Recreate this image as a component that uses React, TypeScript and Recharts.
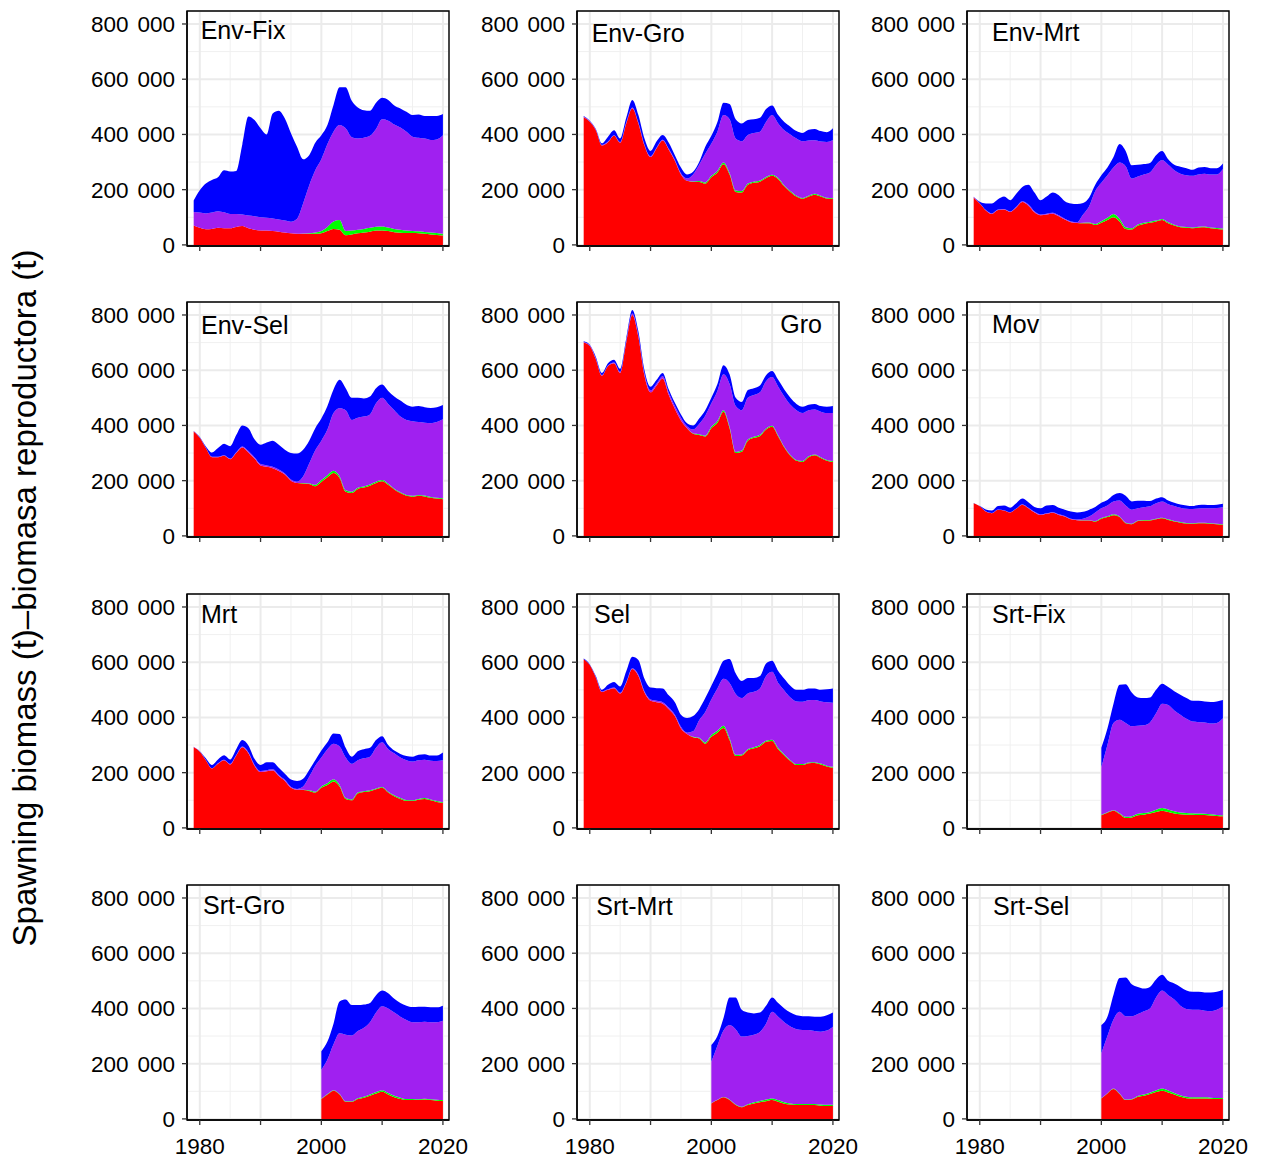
import React from 'react';
import { AreaChart, Area, XAxis, YAxis, CartesianGrid, ReferenceArea } from 'recharts';

// ---------- categories ----------
const YEARS = [1979, 1980, 1981, 1982, 1983, 1984, 1985, 1986, 1987, 1988, 1989, 1990, 1991, 1992, 1993, 1994, 1995, 1996, 1997, 1998, 1999, 2000, 2001, 2002, 2003, 2004, 2005, 2006, 2007, 2008, 2009, 2010, 2011, 2012, 2013, 2014, 2015, 2016, 2017, 2018, 2019, 2020];
const SRT_YEARS = [2000, 2001, 2002, 2003, 2004, 2005, 2006, 2007, 2008, 2009, 2010, 2011, 2012, 2013, 2014, 2015, 2016, 2017, 2018, 2019, 2020];

const X_TICKS = [1980, 1990, 2000, 2010, 2020];
const X_LABELS = [1980, 2000, 2020];
const X_MINOR = [1985, 1995, 2005, 2015];
const Y_TICKS = [0, 200000, 400000, 600000, 800000];
const Y_MINOR = [100000, 300000, 500000, 700000];
const Y_TITLE = 'Spawning biomass (t)\u2013biomasa reproductora (t)';

// ---------- series values (thousand t); stacked: red, green, purple, blue ----------
const envFixRed = [70, 62, 57, 58, 62, 60, 60, 65, 68, 60, 55, 52, 52, 50, 48, 45, 42, 40, 40, 40, 40, 42, 50, 58, 55, 35, 38, 42, 45, 48, 52, 52, 50, 46, 44, 43, 43, 42, 40, 38, 36, 34];
const envFixGreen = [0, 0, 0, 0, 0, 0, 0, 0, 0, 0, 0, 0, 0, 0, 0, 0, 0, 0, 1, 2, 5, 8, 15, 27, 35, 15, 14, 13, 13, 14, 14, 15, 13, 12, 11, 9, 7, 7, 7, 7, 7, 6];
const envFixPurple = [49, 55, 57, 59, 60, 58, 52, 47, 42, 46, 49, 48, 46, 46, 44, 43, 42, 55, 109, 173, 225, 260, 300, 325, 344, 372, 338, 330, 330, 333, 354, 388, 387, 378, 370, 358, 342, 339, 338, 335, 339, 357];
const envFixBlue = [42, 81, 108, 118, 123, 152, 154, 156, 254, 359, 348, 322, 302, 380, 394, 370, 320, 260, 160, 110, 100, 87, 69, 97, 137, 149, 132, 113, 100, 91, 95, 78, 75, 69, 69, 72, 78, 84, 82, 87, 85, 77];

const envGroRed = [462, 446, 415, 360, 372, 395, 370, 440, 495, 440, 360, 318, 350, 378, 345, 305, 255, 232, 228, 228, 222, 245, 262, 292, 255, 192, 190, 218, 225, 229, 242, 250, 238, 212, 192, 175, 167, 175, 182, 175, 168, 167];
const envGroGreen = [0, 0, 0, 0, 0, 0, 0, 0, 0, 0, 0, 0, 0, 0, 0, 0, 0, 0, 2, 3, 4, 5, 6, 6, 5, 5, 5, 4, 4, 4, 4, 4, 4, 3, 3, 3, 3, 3, 3, 3, 3, 3];
const envGroPurple = [2, 2, 2, 2, 2, 2, 2, 3, 3, 3, 3, 3, 3, 3, 3, 3, 4, 8, 25, 59, 104, 117, 142, 172, 195, 188, 180, 176, 176, 177, 199, 216, 198, 200, 205, 207, 205, 200, 194, 196, 202, 209];
const envGroBlue = [3, 2, 3, 6, 18, 18, 13, 17, 27, 27, 22, 19, 22, 17, 22, 17, 21, 15, 10, 10, 25, 28, 35, 45, 55, 70, 65, 54, 50, 50, 47, 35, 30, 30, 28, 27, 30, 39, 41, 38, 35, 43];

const envMrtRed = [172, 150, 125, 112, 126, 128, 119, 135, 155, 142, 118, 107, 110, 113, 104, 92, 82, 79, 78, 78, 72, 80, 90, 100, 85, 58, 56, 70, 76, 80, 85, 90, 78, 70, 64, 62, 60, 63, 64, 60, 58, 56];
const envMrtGreen = [0, 0, 0, 0, 0, 0, 0, 0, 0, 0, 0, 0, 0, 0, 0, 0, 0, 0, 2, 3, 4, 6, 8, 12, 10, 6, 4, 4, 4, 4, 3, 4, 4, 3, 3, 3, 3, 3, 3, 3, 3, 3];
const envMrtPurple = [1, 1, 1, 2, 2, 2, 2, 3, 3, 4, 4, 3, 3, 3, 3, 3, 3, 3, 30, 59, 119, 139, 154, 168, 203, 221, 180, 174, 175, 178, 202, 213, 208, 197, 191, 187, 187, 189, 191, 192, 194, 216];
const envMrtBlue = [1, 5, 24, 36, 37, 45, 41, 47, 52, 72, 68, 52, 62, 74, 73, 63, 65, 66, 42, 32, 23, 27, 28, 38, 67, 55, 48, 42, 38, 35, 35, 33, 20, 20, 25, 26, 22, 25, 24, 23, 23, 20];

const envSelRed = [378, 355, 318, 285, 285, 290, 278, 300, 320, 302, 280, 255, 250, 245, 235, 222, 200, 192, 190, 188, 180, 195, 212, 228, 210, 160, 155, 170, 175, 182, 192, 198, 185, 168, 155, 145, 142, 145, 143, 138, 135, 133];
const envSelGreen = [0, 0, 0, 0, 0, 0, 0, 0, 0, 0, 0, 0, 0, 0, 0, 0, 0, 0, 2, 2, 5, 7, 8, 8, 6, 5, 5, 4, 4, 4, 4, 4, 4, 3, 3, 3, 3, 3, 3, 3, 3, 3];
const envSelPurple = [1, 1, 1, 2, 2, 2, 2, 3, 4, 5, 5, 5, 5, 5, 5, 4, 4, 4, 23, 72, 125, 143, 165, 209, 246, 290, 260, 254, 253, 254, 284, 298, 289, 284, 274, 272, 270, 264, 264, 267, 274, 286];
const envSelBlue = [1, 2, 5, 15, 31, 42, 45, 62, 76, 83, 65, 70, 83, 95, 90, 86, 96, 102, 97, 83, 80, 80, 85, 85, 103, 80, 80, 72, 66, 65, 55, 48, 47, 50, 58, 55, 53, 58, 56, 55, 54, 52];

const groRed = [700, 688, 640, 580, 615, 625, 590, 700, 800, 720, 580, 520, 545, 570, 510, 460, 418, 390, 370, 365, 360, 390, 410, 450, 390, 300, 305, 345, 355, 362, 385, 395, 360, 320, 290, 272, 268, 285, 292, 282, 272, 268];
const groGreen = [0, 0, 0, 0, 0, 0, 0, 0, 0, 0, 0, 0, 0, 0, 0, 0, 0, 0, 2, 3, 3, 5, 6, 5, 5, 4, 4, 4, 4, 4, 4, 4, 4, 3, 3, 3, 3, 3, 3, 3, 3, 3];
const groPurple = [2, 2, 2, 2, 2, 3, 4, 5, 5, 6, 7, 7, 7, 8, 8, 10, 10, 7, 13, 37, 72, 85, 109, 130, 155, 166, 146, 151, 151, 154, 171, 176, 176, 182, 182, 180, 174, 167, 163, 165, 170, 174];
const groBlue = [3, 2, 6, 8, 8, 10, 11, 10, 13, 14, 13, 13, 13, 12, 12, 12, 12, 11, 15, 20, 20, 20, 25, 33, 35, 30, 30, 28, 25, 25, 22, 22, 25, 25, 25, 23, 23, 20, 20, 20, 23, 25];

const movRed = [118, 107, 88, 82, 95, 92, 85, 98, 113, 100, 85, 76, 80, 84, 76, 70, 60, 57, 56, 56, 52, 62, 68, 75, 68, 46, 42, 54, 56, 56, 60, 64, 58, 52, 48, 45, 44, 46, 46, 44, 42, 40];
const movGreen = [0, 0, 0, 0, 0, 0, 0, 0, 0, 0, 0, 0, 0, 0, 0, 0, 0, 0, 1, 1, 2, 3, 3, 3, 2, 2, 2, 2, 2, 2, 2, 2, 2, 2, 2, 2, 2, 2, 2, 2, 2, 2];
const movPurple = [0, 0, 1, 1, 1, 1, 1, 1, 2, 2, 2, 2, 2, 2, 2, 2, 2, 2, 5, 13, 31, 35, 39, 47, 58, 62, 51, 44, 46, 49, 56, 59, 55, 54, 52, 51, 51, 51, 52, 54, 57, 62];
const movBlue = [1, 1, 7, 9, 12, 17, 16, 19, 20, 20, 18, 22, 28, 26, 24, 23, 26, 26, 25, 25, 20, 20, 20, 23, 27, 35, 30, 27, 23, 19, 17, 15, 13, 12, 12, 12, 11, 13, 13, 12, 12, 12];

const mrtRed = [292, 276, 245, 215, 232, 245, 230, 262, 292, 270, 225, 202, 205, 208, 188, 170, 145, 138, 137, 134, 128, 145, 155, 168, 150, 105, 100, 125, 130, 133, 140, 145, 128, 115, 105, 98, 97, 102, 105, 100, 94, 90];
const mrtGreen = [0, 0, 0, 0, 0, 0, 0, 0, 0, 0, 0, 0, 0, 0, 0, 0, 0, 0, 1, 2, 3, 5, 7, 8, 5, 3, 3, 3, 3, 3, 3, 3, 3, 3, 3, 3, 3, 3, 3, 3, 3, 3];
const mrtPurple = [1, 1, 1, 1, 2, 2, 2, 2, 3, 4, 4, 4, 4, 4, 4, 4, 4, 3, 12, 49, 94, 105, 123, 129, 140, 147, 129, 117, 119, 122, 147, 162, 154, 152, 147, 144, 140, 140, 139, 140, 145, 152];
const mrtBlue = [1, 1, 6, 12, 14, 16, 16, 21, 23, 24, 21, 22, 29, 26, 26, 22, 26, 29, 28, 25, 20, 25, 25, 37, 45, 35, 26, 33, 33, 32, 28, 22, 15, 10, 13, 15, 18, 20, 20, 19, 20, 28];

const selRed = [611, 590, 545, 492, 500, 506, 487, 525, 575, 550, 490, 460, 455, 450, 430, 405, 360, 340, 328, 324, 305, 330, 345, 362, 318, 260, 262, 281, 288, 296, 312, 315, 285, 262, 242, 228, 228, 234, 235, 230, 222, 218];
const selGreen = [0, 0, 0, 0, 0, 0, 0, 0, 0, 0, 0, 0, 0, 0, 0, 0, 0, 0, 2, 2, 4, 6, 7, 8, 7, 5, 4, 4, 4, 4, 4, 4, 4, 4, 3, 3, 3, 3, 3, 3, 3, 3];
const selPurple = [0, 0, 1, 2, 2, 2, 2, 3, 3, 5, 5, 5, 5, 5, 6, 5, 6, 5, 20, 64, 111, 129, 153, 170, 200, 220, 204, 202, 201, 205, 234, 246, 236, 232, 227, 227, 226, 225, 225, 225, 230, 232];
const selBlue = [2, 2, 4, 6, 16, 20, 23, 39, 42, 53, 45, 43, 46, 50, 44, 45, 44, 53, 55, 40, 50, 50, 55, 65, 87, 75, 62, 56, 50, 45, 45, 40, 43, 42, 43, 42, 43, 43, 42, 42, 47, 52];

const srtFixRed = [46, 55, 62, 50, 36, 38, 46, 48, 52, 58, 62, 58, 52, 49, 48, 48, 47, 47, 45, 43, 42];
const srtFixGreen = [2, 2, 2, 3, 4, 4, 5, 6, 6, 8, 10, 9, 8, 7, 6, 5, 5, 4, 4, 4, 4];
const srtFixPurple = [172, 243, 316, 339, 340, 326, 319, 318, 324, 349, 378, 378, 365, 354, 341, 332, 331, 331, 329, 333, 351];
const srtFixBlue = [70, 60, 70, 126, 140, 122, 102, 98, 90, 85, 72, 65, 70, 72, 75, 75, 77, 76, 78, 78, 66];

const srtGroRed = [72, 88, 102, 88, 62, 62, 72, 77, 84, 92, 98, 88, 78, 72, 68, 68, 68, 70, 68, 66, 65];
const srtGroGreen = [1, 2, 2, 2, 2, 2, 3, 3, 4, 5, 6, 6, 6, 5, 4, 4, 3, 3, 3, 3, 3];
const srtGroPurple = [105, 125, 166, 220, 241, 238, 243, 250, 262, 288, 304, 306, 301, 293, 286, 278, 279, 279, 279, 281, 287];
const srtGroBlue = [67, 65, 75, 115, 127, 110, 94, 84, 70, 63, 57, 55, 50, 50, 52, 55, 56, 54, 54, 54, 55];

const srtMrtRed = [56, 68, 78, 68, 50, 42, 50, 56, 60, 64, 68, 62, 55, 52, 50, 50, 50, 50, 48, 47, 47];
const srtMrtGreen = [1, 1, 1, 2, 2, 2, 3, 4, 5, 6, 6, 6, 5, 4, 4, 4, 4, 4, 4, 4, 4];
const srtMrtPurple = [150, 196, 241, 270, 273, 254, 247, 245, 250, 275, 314, 302, 290, 279, 271, 268, 268, 264, 264, 269, 283];
const srtMrtBlue = [61, 35, 45, 100, 115, 97, 85, 77, 70, 65, 52, 50, 50, 50, 50, 50, 50, 52, 54, 55, 51];

const srtSelRed = [74, 92, 108, 90, 68, 70, 80, 84, 90, 97, 102, 96, 88, 80, 75, 74, 74, 74, 73, 72, 72];
const srtSelGreen = [1, 1, 2, 2, 2, 2, 3, 4, 5, 6, 8, 7, 6, 6, 5, 4, 4, 4, 4, 4, 4];
const srtSelPurple = [163, 207, 250, 296, 302, 300, 297, 302, 305, 337, 355, 345, 338, 324, 318, 317, 317, 314, 313, 319, 331];
const srtSelBlue = [102, 70, 90, 122, 140, 116, 98, 82, 78, 65, 57, 52, 58, 68, 67, 65, 65, 66, 68, 65, 61];

// ---------- panel table (row-major order) ----------
const PANELS = [
  { title: 'Env-Fix', years: YEARS, red: envFixRed, green: envFixGreen, purple: envFixPurple, blue: envFixBlue, tx: 13.4, ty: 28, right: false },
  { title: 'Env-Gro', years: YEARS, red: envGroRed, green: envGroGreen, purple: envGroPurple, blue: envGroBlue, tx: 14.4, ty: 30.5, right: false },
  { title: 'Env-Mrt', years: YEARS, red: envMrtRed, green: envMrtGreen, purple: envMrtPurple, blue: envMrtBlue, tx: 24.7, ty: 30, right: false },
  { title: 'Env-Sel', years: YEARS, red: envSelRed, green: envSelGreen, purple: envSelPurple, blue: envSelBlue, tx: 13.7, ty: 32, right: false },
  { title: 'Gro', years: YEARS, red: groRed, green: groGreen, purple: groPurple, blue: groBlue, tx: 17.3, ty: 31, right: true },
  { title: 'Mov', years: YEARS, red: movRed, green: movGreen, purple: movPurple, blue: movBlue, tx: 24.7, ty: 31, right: false },
  { title: 'Mrt', years: YEARS, red: mrtRed, green: mrtGreen, purple: mrtPurple, blue: mrtBlue, tx: 13.7, ty: 29, right: false },
  { title: 'Sel', years: YEARS, red: selRed, green: selGreen, purple: selPurple, blue: selBlue, tx: 16.7, ty: 29, right: false },
  { title: 'Srt-Fix', years: SRT_YEARS, red: srtFixRed, green: srtFixGreen, purple: srtFixPurple, blue: srtFixBlue, tx: 24.7, ty: 29, right: false },
  { title: 'Srt-Gro', years: SRT_YEARS, red: srtGroRed, green: srtGroGreen, purple: srtGroPurple, blue: srtGroBlue, tx: 15.7, ty: 29.5, right: false },
  { title: 'Srt-Mrt', years: SRT_YEARS, red: srtMrtRed, green: srtMrtGreen, purple: srtMrtPurple, blue: srtMrtBlue, tx: 19, ty: 30, right: false },
  { title: 'Srt-Sel', years: SRT_YEARS, red: srtSelRed, green: srtSelGreen, purple: srtSelPurple, blue: srtSelBlue, tx: 25.7, ty: 30, right: false },
];

// ---------- layout / style ----------
const FONT = '"Liberation Sans", Arial, Helvetica, sans-serif';
const X_DOMAIN = [1977.9, 2021];
const Y_DOMAIN = [-4000, 847000];
const PLOT_W = 262;
const PLOT_H = 235;
const Y_AXIS_W = 110;
const X_AXIS_H = 40;
const M_TOP = 4;
const M_RIGHT = 30;
const COL_X0 = 187.3;
const COL_STEP = 390;
const ROW_Y0 = 11;
const ROW_STEP = 291.33;
const TICK_FS = 22.5;
const TITLE_FS = 25;

const COLORS = { red: '#FF0000', green: '#00FF00', purple: '#A020F0', blue: '#0000FF' };

const YTick = (props: any) => {
  const { x, y, payload } = props;
  const v = payload.value as number;
  const th = Math.round(v / 1000);
  return (
    <text x={x} y={y} dy="0.355em" textAnchor="end" fill="#000" fontSize={TICK_FS} fontFamily={FONT}>
      {v === 0 ? '0' : (
        <>
          {String(th)}
          <tspan dx={9}>000</tspan>
        </>
      )}
    </text>
  );
};

function Panel({ p, idx }: { p: any; idx: number }) {
  const col = idx % 3;
  const row = Math.floor(idx / 3);
  const isBottom = row === 3;
  const plotLeft = COL_X0 + COL_STEP * col;
  const plotTop = ROW_Y0 + ROW_STEP * row;
  const data = p.years.map((yr: number, i: number) => ({
    year: yr,
    red: p.red[i] * 1000,
    green: p.green[i] * 1000,
    purple: p.purple[i] * 1000,
    blue: p.blue[i] * 1000,
  }));
  return (
    <div style={{ position: 'absolute', left: plotLeft - Y_AXIS_W, top: plotTop - M_TOP }}>
      <AreaChart
        width={Y_AXIS_W + PLOT_W + M_RIGHT}
        height={M_TOP + PLOT_H + X_AXIS_H}
        data={data}
        margin={{ top: M_TOP, right: M_RIGHT, bottom: 0, left: 0 }}
      >
        <CartesianGrid horizontalValues={Y_MINOR} verticalValues={X_MINOR} stroke="#F0F0F0" strokeWidth={1} />
        <CartesianGrid stroke="#EBEBEB" strokeWidth={2} />
        <XAxis
          dataKey="year"
          type="number"
          domain={X_DOMAIN}
          allowDataOverflow
          ticks={X_TICKS}
          interval={0}
          height={X_AXIS_H}
          tickSize={5}
          tickMargin={13}
          stroke="#000"
          axisLine={{ stroke: '#000', strokeWidth: 1.4 }}
          tickLine={{ stroke: '#333', strokeWidth: 1.3 }}
          tick={{ fill: '#000', fontSize: TICK_FS, fontFamily: FONT }}
          tickFormatter={(v: number) => (isBottom && X_LABELS.includes(v) ? String(v) : '')}
        />
        <YAxis
          type="number"
          domain={Y_DOMAIN}
          allowDataOverflow
          ticks={Y_TICKS}
          interval={0}
          width={Y_AXIS_W}
          tickSize={5}
          tickMargin={7}
          axisLine={{ stroke: '#000', strokeWidth: 1.4 }}
          tickLine={{ stroke: '#333', strokeWidth: 1.3 }}
          tick={<YTick />}
        />
        <Area type="monotone" dataKey="red" stackId="s" stroke="none" fill={COLORS.red} fillOpacity={1} isAnimationActive={false} dot={false} activeDot={false} />
        <Area type="monotone" dataKey="green" stackId="s" stroke="none" fill={COLORS.green} fillOpacity={1} isAnimationActive={false} dot={false} activeDot={false} />
        <Area type="monotone" dataKey="purple" stackId="s" stroke="none" fill={COLORS.purple} fillOpacity={1} isAnimationActive={false} dot={false} activeDot={false} />
        <Area type="monotone" dataKey="blue" stackId="s" stroke="none" fill={COLORS.blue} fillOpacity={1} isAnimationActive={false} dot={false} activeDot={false} />
        <ReferenceArea x1={X_DOMAIN[0]} x2={X_DOMAIN[1]} y1={Y_DOMAIN[0]} y2={Y_DOMAIN[1]} fill="none" fillOpacity={0} stroke="#000" strokeWidth={1.4} ifOverflow="visible" />
      </AreaChart>
    </div>
  );
}

export default function App() {
  return (
    <div style={{ position: 'absolute', left: 0, top: 0, width: 1261, height: 1158, background: '#fff', overflow: 'hidden' }}>
      {PANELS.map((p, i) => (
        <Panel key={p.title} p={p} idx={i} />
      ))}
      <svg width={1261} height={1158} style={{ position: 'absolute', left: 0, top: 0, pointerEvents: 'none' }}>
        {PANELS.map((p, i) => {
          const col = i % 3;
          const row = Math.floor(i / 3);
          const plotLeft = COL_X0 + COL_STEP * col;
          const plotTop = ROW_Y0 + ROW_STEP * row;
          const x = p.right ? plotLeft + PLOT_W - p.tx : plotLeft + p.tx;
          return (
            <text key={p.title} x={x} y={plotTop + p.ty} textAnchor={p.right ? 'end' : 'start'} fontSize={TITLE_FS} fontFamily={FONT} fill="#000">
              {p.title}
            </text>
          );
        })}
        <text transform="translate(35.5, 598) rotate(-90)" textAnchor="middle" fontSize={33} fontFamily={FONT} fill="#000">
          {Y_TITLE}
        </text>
      </svg>
    </div>
  );
}
